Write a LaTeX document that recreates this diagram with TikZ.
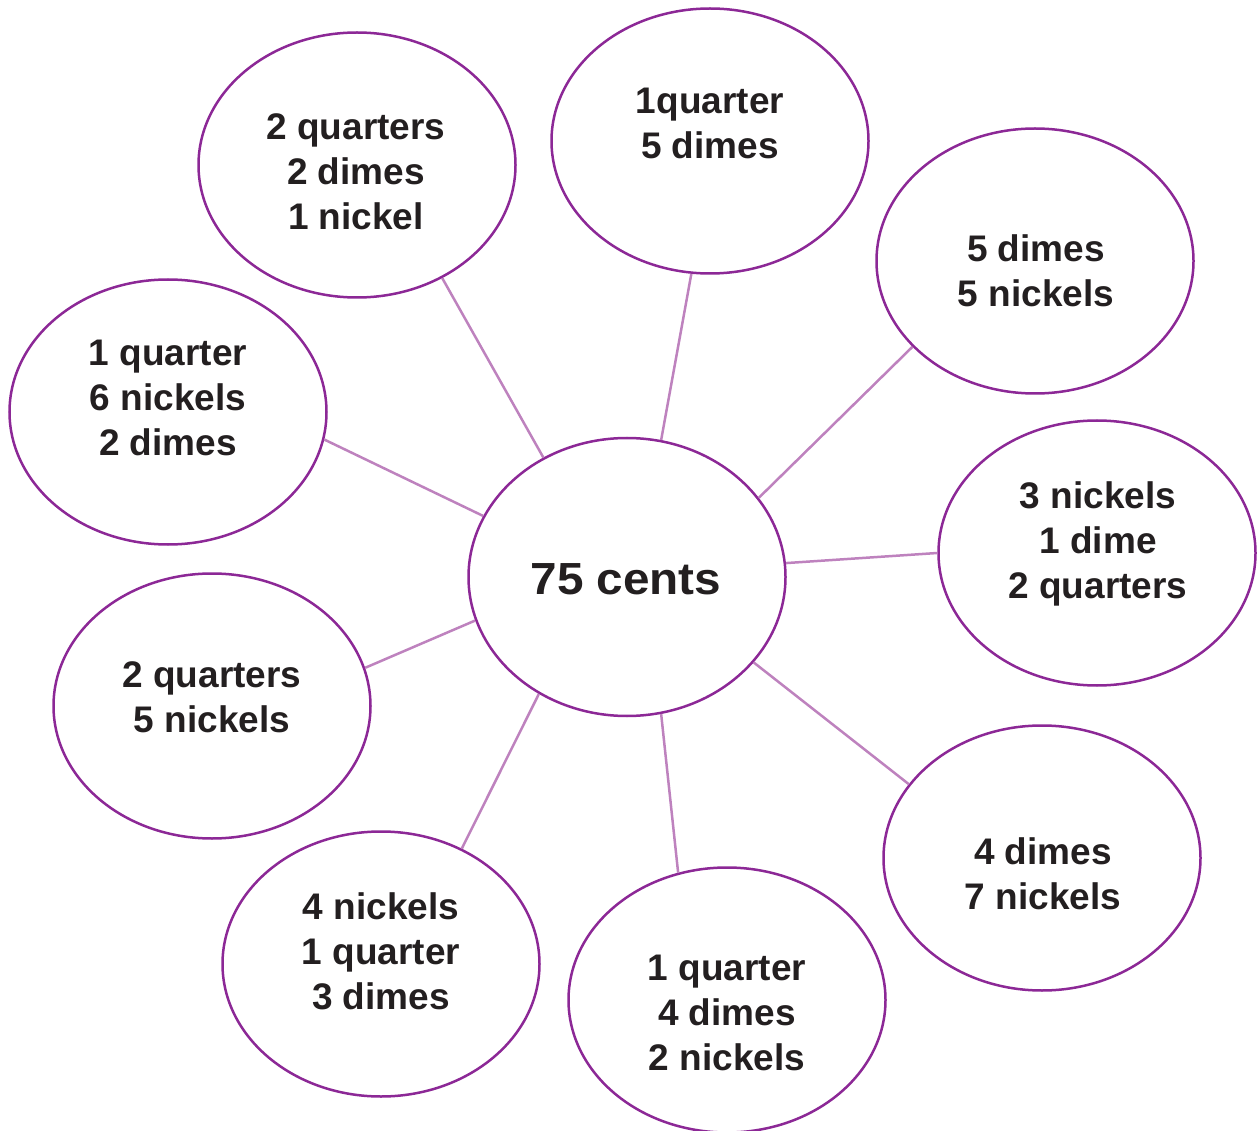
\documentclass[tikz,border=0pt]{standalone}
\usepackage{fontspec}
\setmainfont{Liberation Sans}
\usepackage{graphicx}
\usetikzlibrary{shapes.geometric}
\definecolor{ring}{RGB}{140,40,150}
\definecolor{spoke}{RGB}{190,130,190}
\definecolor{ink}{RGB}{35,31,32}
\begin{document}
\begin{tikzpicture}[x=1pt,y=-1pt,
  bubble/.style={ellipse,draw=ring,line width=2.5pt,minimum width=317pt,minimum height=265pt,inner sep=0pt},
  words/.style={anchor=north,inner sep=0pt,align=center,text=ink,font=\fontsize{37}{45}\selectfont\bfseries},
  spokeline/.style={draw=spoke,line width=2.5pt}]
\useasboundingbox (0,0) rectangle (1259,1131);
\node[bubble,minimum height=278pt] (c) at (627,577) {};
\node[bubble] (tl) at (357,165) {};
\node[bubble] (t) at (710,141) {};
\node[bubble] (rt) at (1035,261) {};
\node[bubble] (l) at (168,412) {};
\node[bubble] (r) at (1097,553) {};
\node[bubble] (lb) at (212,706) {};
\node[bubble] (rb) at (1042,858) {};
\node[bubble] (bl) at (381,964) {};
\node[bubble] (b) at (727,1000) {};
\draw[spokeline] (c.125) -- (tl.-53);
\draw[spokeline] (c.76) -- (t.-98);
\draw[spokeline] (c.31) -- (rt.215);
\draw[spokeline] (c.157) -- (l.-10);
\draw[spokeline] (c.5) -- (r.180);
\draw[spokeline] (c.196) -- (lb.14);
\draw[spokeline] (c.-34) -- (rb.151);
\draw[spokeline] (c.233) -- (bl.55.5);
\draw[spokeline] (c.-76) -- (b.111.6);
\node[inner sep=0pt,anchor=base,text=ink,font=\fontsize{45}{50}\selectfont\bfseries] (ct) at (626,594) {\scalebox{1.06}[1]{75 cents}};
\node[words] (tlt) at (356,113) {2 quarters\\2 dimes\\1 nickel};
\node[words] (tt) at (710,88) {1quarter\\5 dimes};
\node[words] (rtt) at (1036,234) {5 dimes\\5 nickels};
\node[words] (lt) at (168,340) {1 quarter\\6 nickels\\2 dimes};
\node[words] (rtx) at (1098,481) {3 nickels\\1 dime\\2 quarters};
\node[words] (lbt) at (212,661) {2 quarters\\5 nickels};
\node[words] (rbt) at (1043,837) {4 dimes\\7 nickels};
\node[words] (blt) at (381,892) {4 nickels\\1 quarter\\3 dimes};
\node[words] (bt) at (727,955) {1 quarter\\4 dimes\\2 nickels};
\end{tikzpicture}
\end{document}
